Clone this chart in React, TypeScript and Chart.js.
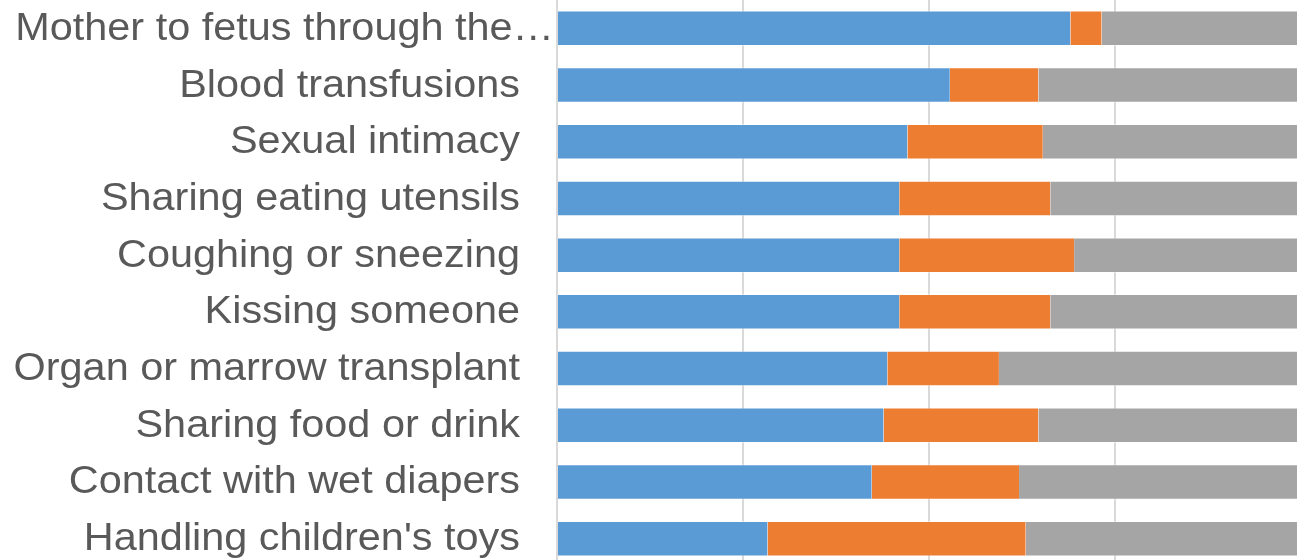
import React, { useEffect, useRef } from "react";
import { Chart, registerables } from "chart.js";

Chart.register(...registerables);

const categories = [
  "Mother to fetus through the…",
  "Blood transfusions",
  "Sexual intimacy",
  "Sharing eating utensils",
  "Coughing or sneezing",
  "Kissing someone",
  "Organ or marrow transplant",
  "Sharing food or drink",
  "Contact with wet diapers",
  "Handling children's toys",
];
const blueValues = [69.0, 52.8, 47.1, 46.0, 46.0, 46.0, 44.4, 43.9, 42.3, 28.3];
const orangeValues = [4.2, 11.9, 18.2, 20.3, 23.5, 20.3, 15.0, 20.8, 19.8, 34.7];
const grayValues = [26.8, 35.3, 34.7, 33.7, 30.5, 33.7, 40.6, 35.3, 37.9, 37.0];
const seriesNames = ["Series 1", "Series 2", "Series 3"];

const LABEL_FONT = "38px 'Liberation Sans', Arial, sans-serif";
const LABEL_STRETCH = 1.09;

const labelPlugin = {
  id: "categoryLabels",
  afterDraw(chart: any) {
    const ctx = chart.ctx;
    const yScale = chart.scales.y;
    const left = chart.chartArea.left;
    ctx.save();
    ctx.font = LABEL_FONT;
    ctx.fillStyle = "#595959";
    ctx.textBaseline = "middle";
    ctx.textAlign = "right";
    categories.forEach((label, i) => {
      const y = yScale.getPixelForValue(i);
      const w = ctx.measureText(label).width * LABEL_STRETCH;
      const x = w + 37 > left ? left - 3 : left - 37;
      ctx.save();
      ctx.translate(x, y + 1);
      ctx.scale(LABEL_STRETCH, 1);
      ctx.fillText(label, 0, 0);
      ctx.restore();
    });
    ctx.restore();
  },
};

export default function App() {
  const canvasRef = useRef<HTMLCanvasElement | null>(null);

  useEffect(() => {
    if (!canvasRef.current) return;
    const edge = { top: 1, bottom: 1, left: 0, right: 0 };
    const chart = new Chart(canvasRef.current, {
      type: "bar",
      data: {
        labels: categories,
        datasets: [
          { label: seriesNames[0], data: blueValues, backgroundColor: "#5b9bd5", borderColor: "rgba(255,255,255,0.45)", borderWidth: edge, borderSkipped: false },
          { label: seriesNames[1], data: orangeValues, backgroundColor: "#ed7d31", borderColor: "rgba(255,255,255,0.45)", borderWidth: edge, borderSkipped: false },
          { label: seriesNames[2], data: grayValues, backgroundColor: "#a5a5a5", borderColor: "rgba(255,255,255,0.45)", borderWidth: edge, borderSkipped: false },
        ],
      },
      options: {
        indexAxis: "y",
        responsive: false,
        animation: false,
        devicePixelRatio: 1,
        layout: { padding: 0 },
        datasets: { bar: { categoryPercentage: 1, barPercentage: 0.626 } },
        plugins: { legend: { display: false }, tooltip: { enabled: false } },
        scales: {
          x: {
            stacked: true,
            min: 0,
            max: 100,
            ticks: { display: false, stepSize: 25 },
            grid: { color: "#d9d9d9", lineWidth: 2, drawTicks: false },
            border: { display: false },
            afterFit: (s: any) => { s.height = 33; },
          },
          y: {
            stacked: true,
            ticks: { display: false },
            grid: { display: false, drawTicks: false },
            border: { display: true, color: "#d9d9d9", width: 2 },
            afterFit: (s: any) => { s.width = 557; },
          },
        },
      },
      plugins: [labelPlugin],
    } as any);
    return () => chart.destroy();
  }, []);

  return (
    <div style={{ position: "fixed", left: 0, top: 0, width: 1301, height: 600, background: "#fff" }}>
      <canvas ref={canvasRef} width={1301} height={600} style={{ display: "block" }} />
    </div>
  );
}
